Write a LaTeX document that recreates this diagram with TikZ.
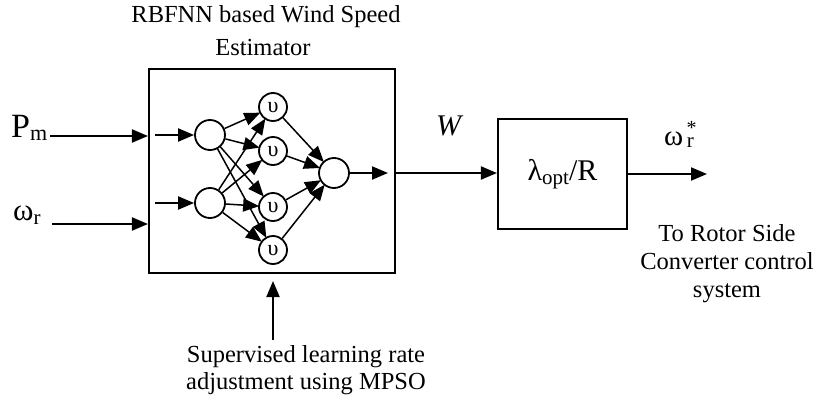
\documentclass[tikz,border=0pt]{standalone}
\usepackage{fontspec}
\setmainfont{Liberation Serif}
\usetikzlibrary{arrows.meta}
\begin{document}
\begin{tikzpicture}[x=1pt,y=-1pt,
  lw/.style={line width=2.1pt},
  arr/.style={line width=2pt,-{Triangle[length=16pt,width=13pt]}},
  narr/.style={line width=1.5pt,-{Triangle[length=16pt,width=13pt]},shorten >=-1pt},
  neuron/.style={circle,draw,line width=1.8pt,minimum size=30pt,inner sep=0pt},
  hid/.style={circle,draw,line width=1.8pt,minimum size=28pt,inner sep=0pt,font=\fontsize{22}{22}\selectfont},
  txt/.style={inner sep=0pt,anchor=base,font=\fontsize{24.5}{28}\selectfont}
]
\path[use as bounding box] (0,0) rectangle (817,399);
% main box
\node[draw,lw,minimum width=246pt,minimum height=204pt,inner sep=0pt] (est) at (272,171) {};
% lambda box
\node[draw,lw,minimum width=129pt,minimum height=110pt,inner sep=0pt,
  font=\fontsize{30}{32}\selectfont] (lam) at (562.5,174)
  {λ\raisebox{-4pt}{\fontsize{21}{21}\selectfont opt}/R};
% neurons
\node[neuron] (i1) at (210,135) {};
\node[neuron] (i2) at (210,203) {};
\node[hid] (h1) at (273,107) {υ};
\node[hid] (h2) at (273,151) {υ};
\node[hid] (h3) at (273,207) {υ};
\node[hid] (h4) at (273,250) {υ};
\node[neuron] (o) at (334,173) {};
% coordinates
\coordinate (pin) at (50,136);
\coordinate (win) at (52,224);
\coordinate (pbox) at (est.west |- pin);
\coordinate (wbox) at (est.west |- win);
\coordinate (ii1) at (155,135);
\coordinate (ii2) at (155,203);
\coordinate (oo) at (388,173);
\coordinate (eo) at (est.east |- oo);
\coordinate (out) at (707,174);
\coordinate (mp) at (273,340);
\coordinate (mpe) at (273,281);
% arrows outside
\draw[arr] (pin) -- (pbox);
\draw[arr] (win) -- (wbox);
\draw[arr] (ii1) -- (i1);
\draw[arr] (ii2) -- (i2);
\draw[arr] (o) -- (oo);
\draw[arr] (eo) -- (lam.west |- eo);
\draw[arr] (lam.east |- out) -- (out);
\draw[arr] (mp) -- (mpe);
% network
\foreach \a in {i1,i2}{
  \foreach \b in {h1,h2,h3,h4}{
    \draw[narr] (\a) -- (\b);
  }
}
\foreach \b in {h1,h2,h3,h4}{
  \draw[narr] (\b) -- (o);
}
% labels
\node[txt] (t1) at (266,22) {RBFNN based Wind Speed};
\node[txt] (t2) at (263,55) {Estimator};
\node[txt] (s1) at (306,362) {Supervised learning rate};
\node[txt] (s2) at (306,389) {adjustment using MPSO};
\node[txt] (r1) at (727,241) {To Rotor Side};
\node[txt] (r2) at (727,269) {Converter control};
\node[txt] (r3) at (727,297) {system};
\node[inner sep=0pt,anchor=base west,font=\fontsize{34}{36}\selectfont] (pm) at (11,137)
  {P\raisebox{-3pt}{\fontsize{22}{22}\selectfont m}};
\node[inner sep=0pt,anchor=base west,font=\fontsize{31}{34}\selectfont] (wr) at (13,220)
  {ω\raisebox{-4pt}{\fontsize{21}{21}\selectfont r}};
\node[inner sep=0pt,anchor=base west,font=\fontsize{30}{34}\selectfont\itshape] (w) at (436,135) {W};
\node[inner sep=0pt,anchor=base west,font=\fontsize{29}{34}\selectfont] (wst) at (664,145)
  {ω\rlap{\raisebox{11pt}{\fontsize{20}{20}\selectfont\,*}}\raisebox{-2pt}{\fontsize{21}{21}\selectfont\,r}};
\end{tikzpicture}
\end{document}
